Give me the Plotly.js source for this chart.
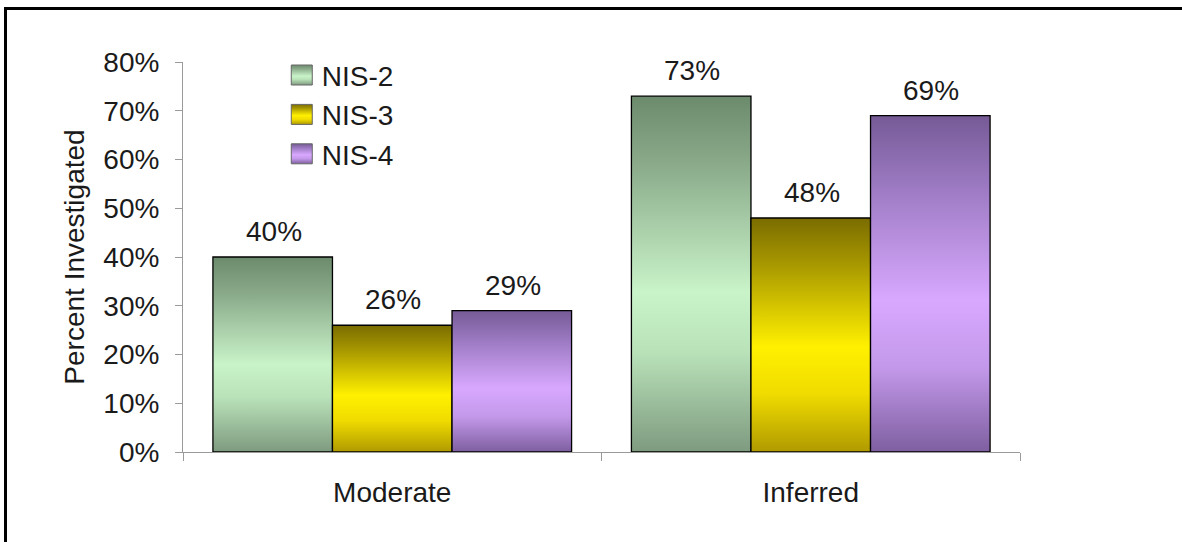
<!DOCTYPE html>
<html>
<head>
<meta charset="utf-8">
<script src="https://cdn.plot.ly/plotly-3.0.1.min.js"></script>
<style>
  html, body { margin: 0; padding: 0; background: #ffffff; }
  #wrap { position: relative; width: 1182px; height: 542px; overflow: hidden; }
  #chart { position: absolute; left: 0; top: 0; width: 1182px; height: 542px; }
  #frame { position: absolute; left: 4px; top: 7px; right: -10px; bottom: -10px;
           border-left: 3px solid #000; border-top: 3px solid #000; pointer-events: none; }
</style>
</head>
<body>
<div id="wrap">
  <div id="chart"></div>
  <div id="frame"></div>
</div>
<script>
// ---- data ----
const categories = ["Moderate", "Inferred"];
const seriesNames = ["NIS-2", "NIS-3", "NIS-4"];
const nis2 = [40, 73];
const nis3 = [26, 48];
const nis4 = [29, 69];
const yTickVals = [0, 10, 20, 30, 40, 50, 60, 70, 80];
const yTickText = ["0%", "10%", "20%", "30%", "40%", "50%", "60%", "70%", "80%"];
const yAxisTitle = "Percent Investigated";

// ---- styles ----
const baseColors = ["#a8d4a8", "#e8d800", "#b890e0"];
const gradients = [
  [[0, "#6c8b6d"], [0.18, "#88a888"], [0.55, "#c9f3c9"], [0.72, "#b9e2b9"], [1, "#7e9a7f"]],
  [[0, "#7a6c00"], [0.2, "#a89800"], [0.55, "#fff000"], [0.75, "#f0dc00"], [1, "#b09a00"]],
  [[0, "#765a96"], [0.2, "#9a78c0"], [0.55, "#d8a8ff"], [0.75, "#c398ea"], [1, "#7e5fa0"]]
];
const seriesValues = [nis2, nis3, nis4];
const FONT = "Liberation Sans, Arial, sans-serif";
const FS = 28;
const TXT = "#1a1a1a";
const bargap = 0.143;

const traces = seriesNames.map((name, i) => ({
  type: "bar",
  name: name,
  x: categories,
  y: seriesValues[i],
  legendgroup: "g" + i,
  marker: { color: baseColors[i], line: { color: "#000000", width: 1.3 } },
  hoverinfo: "skip",
  cliponaxis: false
}));

// value labels above bars (anchored to data values, offset by group slot)
const plotLeft = 183, plotRight = 1020;
const catPx = (plotRight - plotLeft) / categories.length;
const barPx = catPx * (1 - bargap) / seriesNames.length;
const annotations = [];
seriesValues.forEach((vals, i) => {
  vals.forEach((v, j) => {
    annotations.push({
      xref: "x", yref: "y", x: categories[j], y: v,
      text: v + "%", showarrow: false, yanchor: "bottom",
      xshift: (i - (seriesNames.length - 1) / 2) * barPx + 1,
      yshift: 8,
      font: { family: FONT, size: FS, color: TXT }
    });
  });
});

const layout = {
  width: 1182, height: 542,
  margin: { l: 183, r: 162, t: 62, b: 90 },
  paper_bgcolor: "rgba(0,0,0,0)",
  plot_bgcolor: "rgba(0,0,0,0)",
  barmode: "group",
  bargap: bargap,
  bargroupgap: 0,
  showlegend: true,
  legend: {
    x: 0.118, xanchor: "left", y: 1.03, yanchor: "top",
    bgcolor: "rgba(0,0,0,0)", borderwidth: 0,
    font: { family: FONT, size: FS, color: TXT },
    tracegroupgap: 3, traceorder: "normal"
  },
  font: { family: FONT, size: FS, color: TXT },
  xaxis: {
    type: "category",
    categoryarray: categories,
    showline: true, linecolor: "#9a9a9a", linewidth: 1,
    ticks: "outside", tickson: "boundaries", ticklen: 8, tickcolor: "#9a9a9a",
    ticklabelstandoff: 15,
    tickfont: { family: FONT, size: FS, color: TXT },
    showgrid: false, zeroline: false, fixedrange: true
  },
  yaxis: {
    range: [0, 80],
    tickmode: "array",
    tickvals: yTickVals,
    ticktext: yTickText,
    showline: true, linecolor: "#9a9a9a", linewidth: 1,
    ticks: "outside", ticklen: 7, tickcolor: "#9a9a9a",
    ticklabelstandoff: 10,
    tickfont: { family: FONT, size: FS, color: TXT },
    showgrid: false, zeroline: false, fixedrange: true,
    title: { text: yAxisTitle, font: { family: FONT, size: FS, color: TXT }, standoff: 10 }
  },
  xaxis2: {
    overlaying: "x", anchor: "y", range: [-0.5, 1.5],
    tickvals: [-0.5, 0.5, 1.5], ticks: "inside", ticklen: 8, tickcolor: "#9a9a9a",
    showticklabels: false, showline: false, showgrid: false, zeroline: false, fixedrange: true
  },
  yaxis2: {
    overlaying: "y", anchor: "x", range: [0, 80],
    tickvals: yTickVals, ticks: "inside", ticklen: 8, tickcolor: "#9a9a9a",
    showticklabels: false, showline: false, showgrid: false, zeroline: false, fixedrange: true
  },
  annotations: annotations
};

Plotly.newPlot("chart", traces, layout, { staticPlot: true, displayModeBar: false }).then(gd => {
  const svg = gd.querySelector(".main-svg");
  const ns = "http://www.w3.org/2000/svg";
  let defs = svg.querySelector("defs");
  if (!defs) { defs = document.createElementNS(ns, "defs"); svg.insertBefore(defs, svg.firstChild); }
  gradients.forEach((stops, i) => {
    const lg = document.createElementNS(ns, "linearGradient");
    lg.setAttribute("id", "barGrad" + i);
    lg.setAttribute("x1", "0"); lg.setAttribute("y1", "0");
    lg.setAttribute("x2", "0"); lg.setAttribute("y2", "1");
    stops.forEach(s => {
      const st = document.createElementNS(ns, "stop");
      st.setAttribute("offset", s[0]);
      st.setAttribute("stop-color", s[1]);
      lg.appendChild(st);
    });
    defs.appendChild(lg);
  });
  gd.querySelectorAll(".barlayer .trace").forEach((tr, i) => {
    tr.querySelectorAll(".point path").forEach(p => { p.style.fill = "url(#barGrad" + i + ")"; });
  });
  gd.querySelectorAll(".legend .traces").forEach((tr, i) => {
    tr.querySelectorAll(".legendpoints path").forEach(p => {
      p.setAttribute("d", "M10.5,10H-10.5V-10H10.5Z");
      p.style.fill = "url(#barGrad" + i + ")";
      p.style.strokeWidth = "1px";
      p.style.stroke = "#666";
    });
  });
});
</script>
</body>
</html>
